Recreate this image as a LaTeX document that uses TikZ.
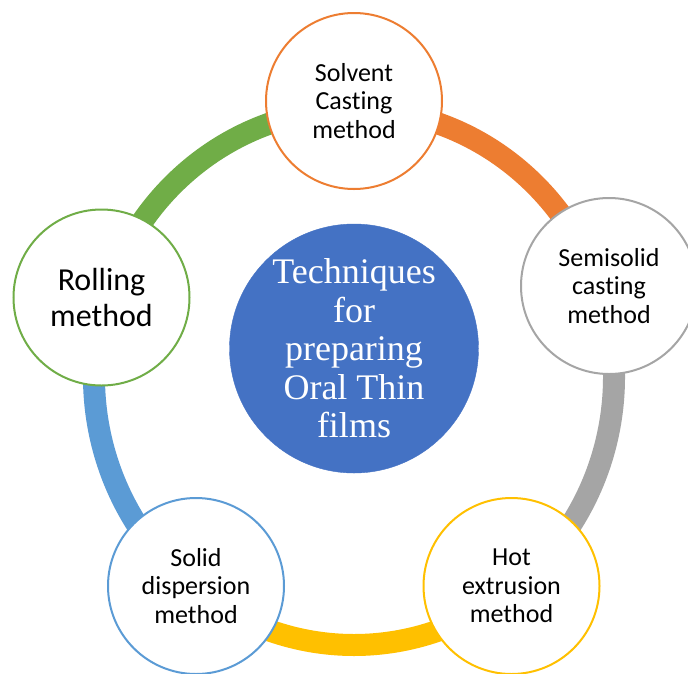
\documentclass[tikz,border=0pt]{standalone}
\usepackage{fontspec}
\setmainfont{Carlito}[Ligatures=NoCommon]
\newfontfamily\timesf{Liberation Serif}
\definecolor{cOrange}{HTML}{ED7D31}
\definecolor{cGray}{HTML}{A5A5A5}
\definecolor{cYellow}{HTML}{FFC000}
\definecolor{cBlue}{HTML}{5B9BD5}
\definecolor{cGreen}{HTML}{70AD47}
\definecolor{cCenter}{HTML}{4472C4}
\tikzset{
  band/.style={line width=22pt},
  methodnode/.style={circle, draw=#1, line width=2pt, fill=white, minimum size=176pt, inner sep=0pt, align=center, font=\fontsize{26}{28.5}\selectfont},
  hubnode/.style={circle, fill=cCenter, draw=cCenter, minimum size=249pt, inner sep=0pt, align=center, text=white, font=\timesf\fontsize{36}{38.5}\selectfont}
}
\begin{document}
\begin{tikzpicture}[x=1pt,y=-1pt]
\clip (0,0) rectangle (688,673);
\fill[white] (0,0) rectangle (688,673);
\coordinate (ringc) at (354,377);
% ring segments
\draw[band, cOrange] ([shift={(-90:260 and 268)}]ringc) arc[start angle=-90, end angle=-19, x radius=260, y radius=268];
\draw[band, cGray] ([shift={(-19:260 and 268)}]ringc) arc[start angle=-19, end angle=52, x radius=260, y radius=268];
\draw[band, cYellow] ([shift={(52:260 and 268)}]ringc) arc[start angle=52, end angle=128, x radius=260, y radius=268];
\draw[band, cBlue] ([shift={(128:260 and 268)}]ringc) arc[start angle=128, end angle=197, x radius=260, y radius=268];
\draw[band, cGreen] ([shift={(197:260 and 268)}]ringc) arc[start angle=197, end angle=270, x radius=260, y radius=268];
% hub
\node[hubnode] (hub) at (354,348.5) {Techniques\\for\\preparing\\Oral Thin\\films};
% method nodes
\node[methodnode=cOrange] (solvent) at (354,101) {Solvent\\Casting\\method};
\node[methodnode=cGray] (semisolid) at (609,286) {Semisolid\\casting\\method};
\node[methodnode=cYellow] (hot) at (511.5,586) {Hot\\extrusion\\method};
\node[methodnode=cBlue] (solid) at (196,586) {Solid\\dispersion\\method};
\node[methodnode=cGreen, font=\fontsize{32}{35.5}\selectfont] (rolling) at (101.5,297.5) {Rolling\\method};
\end{tikzpicture}
\end{document}
